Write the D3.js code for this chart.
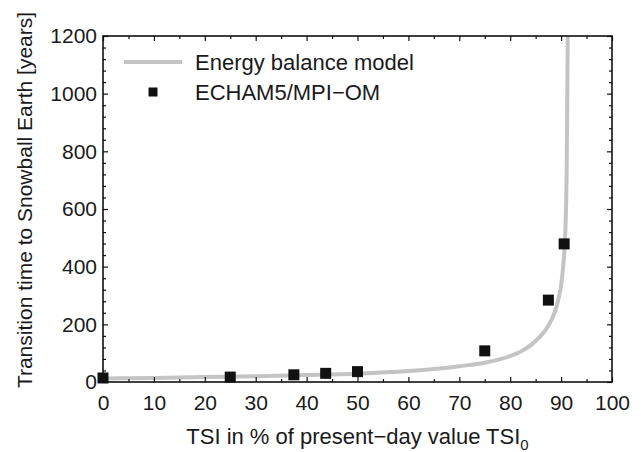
<!DOCTYPE html>
<html>
<head>
<meta charset="utf-8">
<script src="https://cdn.jsdelivr.net/npm/d3@7"></script>
<style>
body { margin: 0; background: #fff; }
text { font-family: "Liberation Sans", Arial, Helvetica, sans-serif; fill: #1a1a1a; }
</style>
</head>
<body>
<div id="chart"></div>
<script>
// ECHAM5/MPI-OM runs
var echamTsi = [0, 25, 37.5, 43.75, 50, 75, 87.5, 90.6];
var echamYears = [14, 17, 25, 30, 36, 108, 284, 479];

// energy balance model curve
var ebmTsi = [0, 10, 20, 30, 40, 50, 60, 65, 70, 75, 80, 82, 84, 85, 86, 87, 88, 89, 89.5, 90, 90.4, 90.7, 90.9, 91.1, 91.2, 91.3];
var ebmYears = [12, 14, 17, 20, 24, 29, 38, 45, 55, 67, 90, 105, 127, 143, 160, 182, 212, 255, 290, 335, 400, 470, 560, 750, 950, 1200];

var xTicks = [0, 10, 20, 30, 40, 50, 60, 70, 80, 90, 100];
var xMinor = [5, 15, 25, 35, 45, 55, 65, 75, 85, 95];
var yTicks = [0, 200, 400, 600, 800, 1000, 1200];
var yMinor = d3.range(40, 1200, 40).filter(function(v) { return v % 200 != 0; });

var legendLabels = ["Energy balance model", "ECHAM5/MPI\u2212OM"];

var W = 641, H = 452;
var margin = {left: 103, right: 29, top: 36, bottom: 70};
var w = W - margin.left - margin.right, h = H - margin.top - margin.bottom;

var svg = d3.select("#chart").append("svg")
    .attr("width", W).attr("height", H);

var g = svg.append("g")
    .attr("transform", "translate(" + margin.left + "," + margin.top + ")");

var x = d3.scaleLinear().domain([0, 100]).range([0, w]);
var y = d3.scaleLinear().domain([0, 1200]).range([h, 0]);

g.append("clipPath").attr("id", "clip")
    .append("rect").attr("width", w).attr("height", h);

// ebm curve
var curveData = ebmTsi.map(function(t, i) { return [t, ebmYears[i]]; });
g.append("path")
    .datum(curveData)
    .attr("clip-path", "url(#clip)")
    .attr("fill", "none")
    .attr("stroke", "#c4c4c4")
    .attr("stroke-width", 4)
    .attr("d", d3.line()
        .x(function(d) { return x(d[0]); })
        .y(function(d) { return y(d[1]); })
        .curve(d3.curveMonotoneX));

// echam points
var sq = 11;
g.selectAll("rect.pt")
    .data(echamTsi.map(function(t, i) { return [t, echamYears[i]]; }))
    .enter().append("rect")
    .attr("class", "pt")
    .attr("x", function(d) { return x(d[0]) - sq / 2; })
    .attr("y", function(d) { return y(d[1]) - sq / 2; })
    .attr("width", sq).attr("height", sq)
    .attr("fill", "#111");

// axes, ticks inward on all four sides
function styleAxis(sel) {
    sel.select(".domain").remove();
    sel.selectAll("line").attr("stroke", "#111").attr("stroke-width", 1.2);
    sel.selectAll("text").style("font-size", "21px").attr("fill", "#1a1a1a");
}

var bottom = g.append("g").attr("transform", "translate(0," + h + ")")
    .call(d3.axisBottom(x).tickValues(xTicks).tickSize(-5).tickFormat(d3.format("d")));
styleAxis(bottom);
bottom.selectAll("text").attr("y", 0).attr("dy", "1.35em");
g.append("g").attr("transform", "translate(0," + h + ")")
    .call(d3.axisBottom(x).tickValues(xMinor).tickSize(-3).tickFormat(""))
    .call(styleAxis);

g.append("g")
    .call(d3.axisTop(x).tickValues(xTicks).tickSize(-5).tickFormat(""))
    .call(styleAxis);
g.append("g")
    .call(d3.axisTop(x).tickValues(xMinor).tickSize(-3).tickFormat(""))
    .call(styleAxis);

var left = g.append("g")
    .call(d3.axisLeft(y).tickValues(yTicks).tickSize(-5).tickFormat(d3.format("d")));
styleAxis(left);
left.selectAll("text").attr("x", -6);
g.append("g")
    .call(d3.axisLeft(y).tickValues(yMinor).tickSize(-3).tickFormat(""))
    .call(styleAxis);

g.append("g").attr("transform", "translate(" + w + ",0)")
    .call(d3.axisRight(y).tickValues(yTicks).tickSize(-5).tickFormat(""))
    .call(styleAxis);
g.append("g").attr("transform", "translate(" + w + ",0)")
    .call(d3.axisRight(y).tickValues(yMinor).tickSize(-3).tickFormat(""))
    .call(styleAxis);

// frame
g.append("rect")
    .attr("width", w).attr("height", h)
    .attr("fill", "none")
    .attr("stroke", "#111")
    .attr("stroke-width", 1.6);

// legend
var lg = svg.append("g");
lg.append("line")
    .attr("x1", 124).attr("x2", 182).attr("y1", 62).attr("y2", 62)
    .attr("stroke", "#c4c4c4").attr("stroke-width", 4);
lg.append("text").attr("x", 195).attr("y", 69.5)
    .style("font-size", "22px").text(legendLabels[0]);
lg.append("rect")
    .attr("x", 153 - 4.5).attr("y", 92 - 4.5).attr("width", 9).attr("height", 9)
    .attr("fill", "#111");
lg.append("text").attr("x", 195).attr("y", 100)
    .style("font-size", "22px").text(legendLabels[1]);

// axis titles
var xt = svg.append("text")
    .attr("x", margin.left + w / 2).attr("y", 444)
    .attr("text-anchor", "middle")
    .style("font-size", "22px");
xt.append("tspan").text("TSI in % of present\u2212day value TSI");
xt.append("tspan").attr("dy", 6).style("font-size", "15px").text("0");

svg.append("text")
    .attr("transform", "translate(32," + 200 + ") rotate(-90)")
    .attr("text-anchor", "middle")
    .style("font-size", "21px")
    .text("Transition time to Snowball Earth [years]");
</script>
</body>
</html>
